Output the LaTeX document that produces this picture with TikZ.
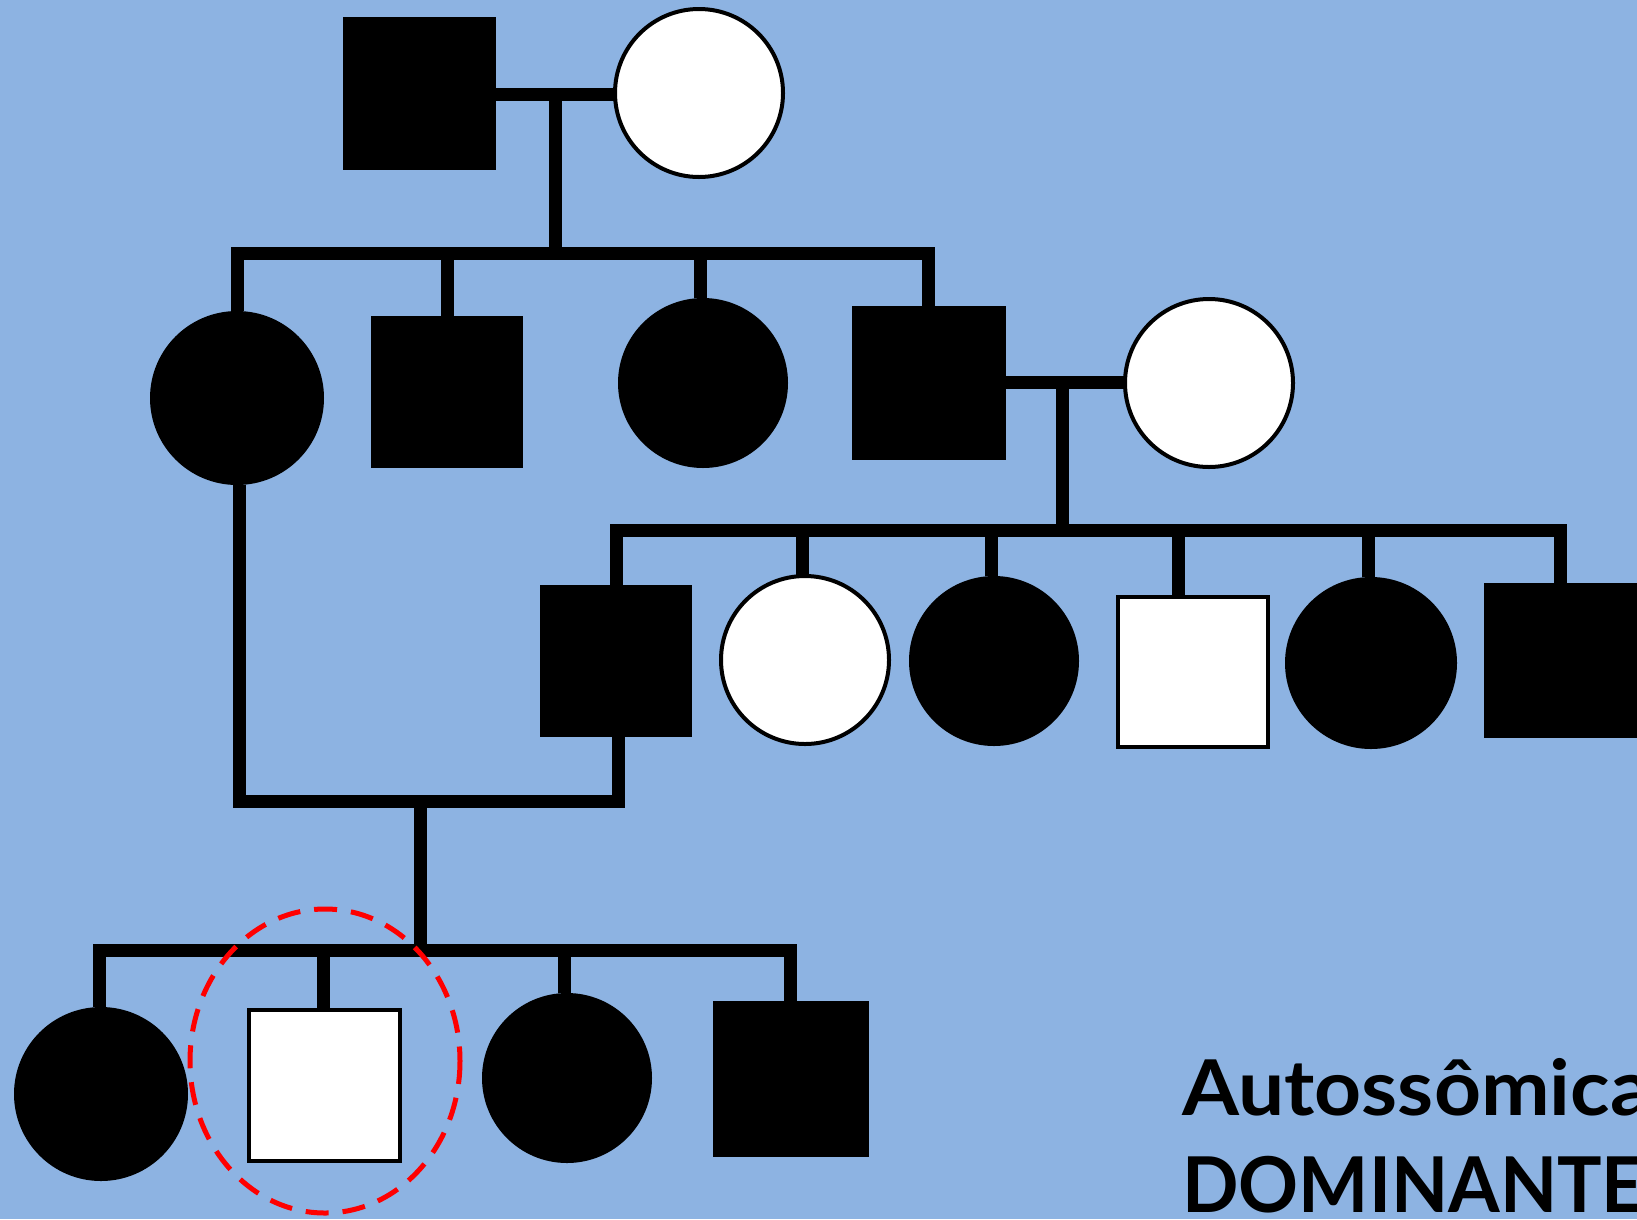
\documentclass[tikz,border=0pt]{standalone}
\usepackage{fontspec}
\newfontfamily\labelfont{Lato}
\definecolor{bgblue}{RGB}{141,179,226}
\begin{document}
\begin{tikzpicture}[x=1pt,y=-1pt,
  aff/.style={fill=black,draw=none,inner sep=0pt,outer sep=0pt},
  unaff/.style={fill=white,draw=black,line width=4pt,inner sep=0pt,outer sep=0pt},
  msq/.style={rectangle,minimum width=#1,minimum height=#1},
  fcirc/.style={circle,minimum size=#1},
  kinline/.style={draw=black,line width=13pt},
  focus/.style={draw=red,line width=5pt,dash pattern=on 23pt off 14pt},
  lbl/.style={anchor=base west,inner sep=0pt,font=\labelfont\bfseries\fontsize{77}{90}\selectfont,transform shape}]
\fill[bgblue] (0,0) rectangle (1637,1219);
\useasboundingbox (0,0) rectangle (1637,1219);
% generation I
\node[aff,msq=153pt] (I1) at (419.5,93.5) {};
\node[unaff,fcirc=168pt] (I2) at (699,93) {};
% generation II
\node[aff,fcirc=174pt] (II1) at (237,398) {};
\node[aff,msq=152pt] (II2) at (447,391.5) {};
\node[aff,fcirc=170pt] (II3) at (703,383) {};
\node[aff,msq=154pt] (II4) at (928.5,382.5) {};
\node[unaff,fcirc=168pt] (II5) at (1209,383) {};
% generation III
\node[aff,msq=152pt] (III1) at (616,661) {};
\node[unaff,fcirc=168pt] (III2) at (805,660) {};
\node[aff,fcirc=170pt] (III3) at (994,661) {};
\node[unaff,msq=150pt] (III4) at (1193,671.5) {};
\node[aff,fcirc=172pt] (III5) at (1371,663) {};
\node[aff,msq=155pt] (III6) at (1561.5,660.5) {};
% generation IV
\node[aff,fcirc=174pt] (IV1) at (101,1094) {};
\node[unaff,msq=151pt] (IV2) at (324.5,1085) {};
\node[aff,fcirc=170pt] (IV3) at (567,1078) {};
\node[aff,msq=156pt] (IV4) at (791,1079) {};
% junction points
\coordinate (m1) at (555,94);
\coordinate (sA) at (555,253);
\coordinate (m2) at (1062,382);
\coordinate (sB) at (1062,530);
\coordinate (m3) at (420,801);
\coordinate (sC) at (420,950);
% gen I connectors
\draw[kinline] (I1.east |- m1) -- (I2.west |- m1);
\draw[kinline] (m1) -- (sA);
\draw[kinline] (II1.north) |- (sA) -| (II4.north);
\draw[kinline] (II2.north) -- (II2.north |- sA);
\draw[kinline] ([xshift=-3pt]II3.north) -- ([xshift=-3pt]II3.north |- sA);
% gen II connectors
\draw[kinline] (II4.east |- m2) -- (II5.west |- m2);
\draw[kinline] (m2) -- (sB);
\draw[kinline] (III1.north) |- (sB) -| ([xshift=-1.5pt]III6.north);
\draw[kinline] ([xshift=-3pt]III2.north) -- ([xshift=-3pt]III2.north |- sB);
\draw[kinline] ([xshift=-3pt]III3.north) -- ([xshift=-3pt]III3.north |- sB);
\draw[kinline] ([xshift=-15pt]III4.north) -- ([xshift=-15pt]III4.north |- sB);
\draw[kinline] ([xshift=-3pt]III5.north) -- ([xshift=-3pt]III5.north |- sB);
% union II1 x III1
\draw[kinline] ([xshift=2pt]II1.south) |- (m3) -| ([xshift=2pt]III1.south);
\draw[kinline] (m3) -- (sC);
\draw[kinline] ([xshift=-2pt]IV1.north) |- (sC) -| ([xshift=-1pt]IV4.north);
\draw[kinline] ([xshift=-1.5pt]IV2.north) -- ([xshift=-1.5pt]IV2.north |- sC);
\draw[kinline] ([xshift=-3pt]IV3.north) -- ([xshift=-3pt]IV3.north |- sC);
% focus ring
\draw[focus] (IV2.center) ++(0.5,-24) ellipse [x radius=135, y radius=152];
% label
\node[lbl,xscale=1.065] (t1) at (1182,1115) {Autossômica};
\node[lbl,xscale=0.965] (t2) at (1182,1212) {DOMINANTE};
\end{tikzpicture}
\end{document}
